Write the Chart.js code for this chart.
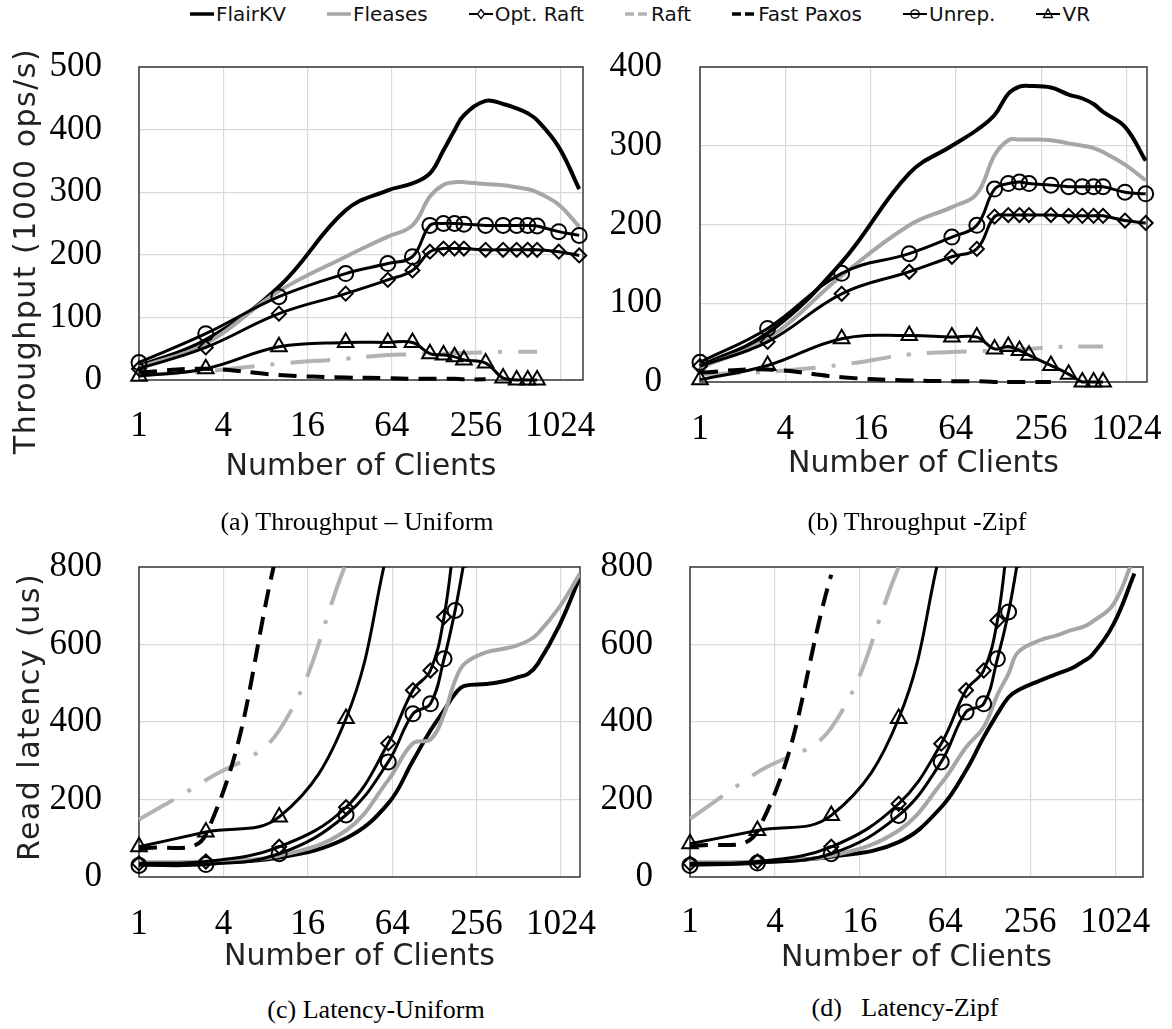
<!DOCTYPE html>
<html>
<head>
<meta charset="utf-8">
<script src="https://cdn.jsdelivr.net/npm/chart.js@4.4.1/dist/chart.umd.min.js"></script>
<style>
  html, body { margin: 0; padding: 0; background: #fff; }
  body { position: relative; width: 1172px; height: 1029px; overflow: hidden; font-family: 'DejaVu Sans', sans-serif; }
  canvas { position: absolute; }
  .legend { position: absolute; left: 190px; top: 2px; display: flex; gap: 41px; font-size: 20px; line-height: 24px; color: #111; white-space: nowrap; }
  .legend span { display: flex; align-items: center; }
  .legend svg { margin-right: 2px; }
  .ytitle { position: absolute; font-size: 30px; letter-spacing: 1.5px; color: #222; white-space: nowrap; transform: translate(-50%, -50%) rotate(-90deg); }
  .caption { position: absolute; font-family: 'Liberation Serif', serif; font-size: 26px; white-space: pre; color: #000; transform: translate(-50%, -50%); }
</style>
</head>
<body>
<div class="legend" id="legend"></div>

<canvas id="cA" width="610" height="450" style="left:0px;top:40px"></canvas>
<canvas id="cB" width="582" height="450" style="left:590px;top:40px"></canvas>
<canvas id="cC" width="610" height="460" style="left:0px;top:530px"></canvas>
<canvas id="cD" width="582" height="460" style="left:590px;top:530px"></canvas>

<div class="ytitle" style="left:24px;top:251px">Throughput (1000 ops/s)</div>
<div class="ytitle" style="left:28px;top:717px">Read latency (us)</div>

<div class="caption" style="left:357px;top:522px">(a) Throughput – Uniform</div>
<div class="caption" style="left:917px;top:522px">(b) Throughput -Zipf</div>
<div class="caption" style="left:376px;top:1010px">(c) Latency-Uniform</div>
<div class="caption" style="left:905px;top:1008px">(d)   Latency-Zipf</div>

<script>
// number of clients, shared x values of every series
var clients = [1, 3, 10, 30, 60, 90, 120, 150, 180, 210, 300, 400, 500, 600, 700, 1000, 1400];
var xTicks = [1, 4, 16, 64, 256, 1024];
var seriesNames = ['FlairKV', 'Fleases', 'Opt. Raft', 'Raft', 'Fast Paxos', 'Unrep.', 'VR'];

// (a) throughput, uniform (1000 ops/s)
var flairTU   = [22, 64, 149, 271, 303, 314, 330, 367, 399, 423, 446, 441, 434, 426, 415, 372, 305];
var fleasesTU = [20, 58, 142, 197, 229, 247, 293, 312, 316, 316, 313, 311, 308, 305, 300, 280, 245];
var optTU     = [18, 52, 106, 138, 160, 175, 205, 210, 210, 210, 208, 208, 208, 208, 208, 205, 199];
var raftTU    = [8, 14, 26, 34, 40, 41, 42, 42, 43, 43, 44, 45, 45, 45, 45];
var fpTU      = [12, 18, 8, 4, 3, 2, 2, 2, 2, 1, 1];
var unrepTU   = [28, 74, 133, 170, 186, 197, 247, 250, 250, 249, 247, 247, 247, 247, 246, 237, 231];
var vrTU      = [6, 18, 53, 60, 60, 60, 42, 40, 37, 32, 27, 3, 0, 0, 0];

// (b) throughput, zipf (1000 ops/s)
var flairTZ   = [20, 62, 152, 265, 300, 320, 339, 366, 375, 376, 374, 365, 360, 353, 343, 324, 281];
var fleasesTZ = [18, 55, 135, 199, 222, 239, 288, 307, 308, 308, 307, 303, 300, 297, 292, 276, 256];
var optTZ     = [20, 51, 112, 140, 159, 169, 210, 212, 212, 212, 212, 211, 211, 211, 211, 205, 202];
var raftTZ    = [10, 13, 22, 35, 38, 39, 40, 41, 42, 42, 44, 45, 45, 45, 45];
var fpTZ      = [12, 16, 6, 2, 1, 1, 0, 0, 0, 0, 0];
var unrepTZ   = [25, 68, 138, 163, 184, 199, 245, 252, 254, 252, 250, 248, 248, 248, 248, 241, 239];
var vrTZ      = [3, 21, 55, 59, 57, 57, 42, 45, 40, 34, 21, 10, 0, 0, 0];

// (c) read latency, uniform (us)
var flairLU   = [35, 37, 50, 100, 190, 300, 378, 430, 473, 493, 498, 505, 515, 525, 550, 650, 775];
var fleasesLU = [38, 40, 55, 120, 250, 345, 355, 420, 507, 550, 580, 589, 598, 610, 628, 697, 783];
var optLU     = [35, 40, 78, 180, 345, 482, 533, 671, 890];
var raftLU    = [148, 250, 378, 810];
var fpLU      = [72, 110, 860];
var unrepLU   = [30, 32, 60, 160, 297, 421, 447, 563, 688, 820];
var vrLU      = [78, 116, 155, 409, 850];

// (d) read latency, zipf (us)
var flairLZ   = [35, 38, 52, 90, 180, 275, 361, 421, 464, 482, 507, 525, 538, 555, 572, 654, 783];
var fleasesLZ = [38, 40, 55, 120, 241, 335, 387, 470, 525, 580, 611, 624, 637, 645, 658, 705, 830];
var optLZ     = [35, 40, 78, 189, 344, 482, 533, 662, 890];
var raftLZ    = [150, 270, 385, 800];
var fpLZ      = [78, 118, 780];
var unrepLZ   = [30, 36, 60, 159, 297, 426, 447, 563, 684, 820];
var vrLZ      = [86, 120, 159, 409, 850];

// look of each series, same order as seriesNames
var styles = [
  { color: '#000000', width: 4 },
  { color: '#a6a6a6', width: 4 },
  { color: '#000000', width: 3, point: 'rectRot', r: 7 },
  { color: '#b3b3b3', width: 4, dash: [40, 16, 4, 16] },
  { color: '#000000', width: 4, dash: [18, 10] },
  { color: '#000000', width: 3, point: 'circle', r: 7.5 },
  { color: '#000000', width: 3, point: 'triangle', r: 9 }
];

var panels = [
  { id: 'cA', yMax: 500, xMax: 1490, series: [flairTU, fleasesTU, optTU, raftTU, fpTU, unrepTU, vrTU],
    pad: { top: 27, right: 27 }, yW: 139, xH: 110, yPad: 37, xPad: 29.5, tPad: 5, latency: false },
  { id: 'cB', yMax: 400, xMax: 1430, series: [flairTZ, fleasesTZ, optTZ, raftTZ, fpTZ, unrepTZ, vrTZ],
    pad: { top: 27, right: 25 }, yW: 110, xH: 108, yPad: 38, xPad: 30.5, tPad: 8, latency: false },
  { id: 'cC', yMax: 800, xMax: 1400, series: [flairLU, fleasesLU, optLU, raftLU, fpLU, unrepLU, vrLU],
    pad: { top: 37, right: 30 }, yW: 139, xH: 113, yPad: 37, xPad: 30.5, tPad: 15, latency: true },
  { id: 'cD', yMax: 800, xMax: 1610, series: [flairLZ, fleasesLZ, optLZ, raftLZ, fpLZ, unrepLZ, vrLZ],
    pad: { top: 37, right: 29 }, yW: 100, xH: 113, yPad: 37, xPad: 28.5, tPad: 14, latency: true }
];

// box round the plot area, as in the original figure
var framePlugin = {
  id: 'frame',
  beforeDatasetsDraw: function(chart) {
    var a = chart.chartArea, ctx = chart.ctx;
    ctx.save();
    ctx.strokeStyle = '#3a3a3a';
    ctx.lineWidth = 1.5;
    ctx.strokeRect(a.left, a.top, a.right - a.left, a.bottom - a.top);
    ctx.restore();
  }
};

function makeDataset(i, values, latency) {
  var s = styles[i];
  var pts = [];
  for (var k = 0; k < values.length; k++) {
    if (values[k] !== null) pts.push({ x: clients[k], y: values[k] });
  }
  return {
    label: seriesNames[i],
    data: pts,
    borderColor: s.color,
    borderWidth: s.width,
    borderDash: s.dash || [],
    pointStyle: s.point || 'circle',
    pointRadius: s.point ? s.r : 0,
    pointBorderColor: s.color,
    pointBackgroundColor: 'rgba(0,0,0,0)',
    pointBorderWidth: 2,
    tension: 0.4,
    fill: false,
    order: 6 - i, // later series on top
    clip: latency ? { left: 12, top: 0, right: 0, bottom: 12 } : false
  };
}

function makeChart(p) {
  var datasets = [];
  for (var i = 0; i < p.series.length; i++) datasets.push(makeDataset(i, p.series[i], p.latency));

  new Chart(document.getElementById(p.id), {
    type: 'line',
    data: { datasets: datasets },
    plugins: [framePlugin],
    options: {
      responsive: false,
      animation: false,
      devicePixelRatio: 1,
      layout: { padding: { left: 0, top: p.pad.top, right: p.pad.right, bottom: 0 } },
      plugins: { legend: { display: false }, tooltip: { enabled: false } },
      scales: {
        x: {
          type: 'logarithmic',
          min: 1,
          max: p.xMax,
          afterBuildTicks: function(s) { s.ticks = xTicks.map(function(v) { return { value: v }; }); },
          // fixed box size, and no extra room asked for the end labels
          afterFit: function(s) { s.height = p.xH; s.paddingLeft = 0; s.paddingRight = 0; },
          ticks: {
            callback: function(v) { return String(v); },
            autoSkip: false, maxRotation: 0, padding: p.xPad, color: '#000',
            font: { family: 'Liberation Serif', size: 35, lineHeight: 1 }
          },
          grid: { color: '#d9d9d9', lineWidth: 1.2, drawTicks: false },
          border: { display: false },
          title: {
            display: true, text: 'Number of Clients', color: '#222',
            font: { family: 'DejaVu Sans', size: 30 },
            padding: { top: 0, bottom: p.tPad }
          }
        },
        y: {
          min: 0,
          max: p.yMax,
          afterFit: function(s) { s.width = p.yW; s.paddingTop = 0; s.paddingBottom = 0; },
          ticks: {
            stepSize: p.yMax === 800 ? 200 : 100, padding: p.yPad, color: '#000',
            font: { family: 'Liberation Serif', size: 35, lineHeight: 1 }
          },
          grid: { color: '#d9d9d9', lineWidth: 1.2, drawTicks: false },
          border: { display: false }
        }
      }
    }
  });
}

// legend row above the four panels
function legendIcon(s) {
  var svg = '<svg width="24" height="16" viewBox="0 0 24 16">';
  if (s.dash) {
    svg += '<line x1="0" y1="8" x2="9" y2="8" stroke="' + s.color + '" stroke-width="3.5"/>';
    svg += '<line x1="13" y1="8" x2="22" y2="8" stroke="' + s.color + '" stroke-width="3.5"/>';
  } else {
    svg += '<line x1="0" y1="8" x2="24" y2="8" stroke="' + s.color + '" stroke-width="' + (s.point ? 2 : 3.5) + '"/>';
  }
  if (s.point === 'rectRot') svg += '<polygon points="12,3.5 15.5,8 12,12.5 8.5,8" fill="#fff" stroke="#000" stroke-width="1.3"/>';
  if (s.point === 'circle') svg += '<circle cx="12" cy="8" r="4.2" fill="none" stroke="#000" stroke-width="1.3"/>';
  if (s.point === 'triangle') svg += '<polygon points="12,3 16.5,11.5 7.5,11.5" fill="none" stroke="#000" stroke-width="1.3"/>';
  return svg + '</svg>';
}

var legend = document.getElementById('legend');
for (var i = 0; i < seriesNames.length; i++) {
  var item = document.createElement('span');
  item.innerHTML = legendIcon(styles[i]) + seriesNames[i];
  legend.appendChild(item);
}

for (var j = 0; j < panels.length; j++) makeChart(panels[j]);
</script>
</body>
</html>
